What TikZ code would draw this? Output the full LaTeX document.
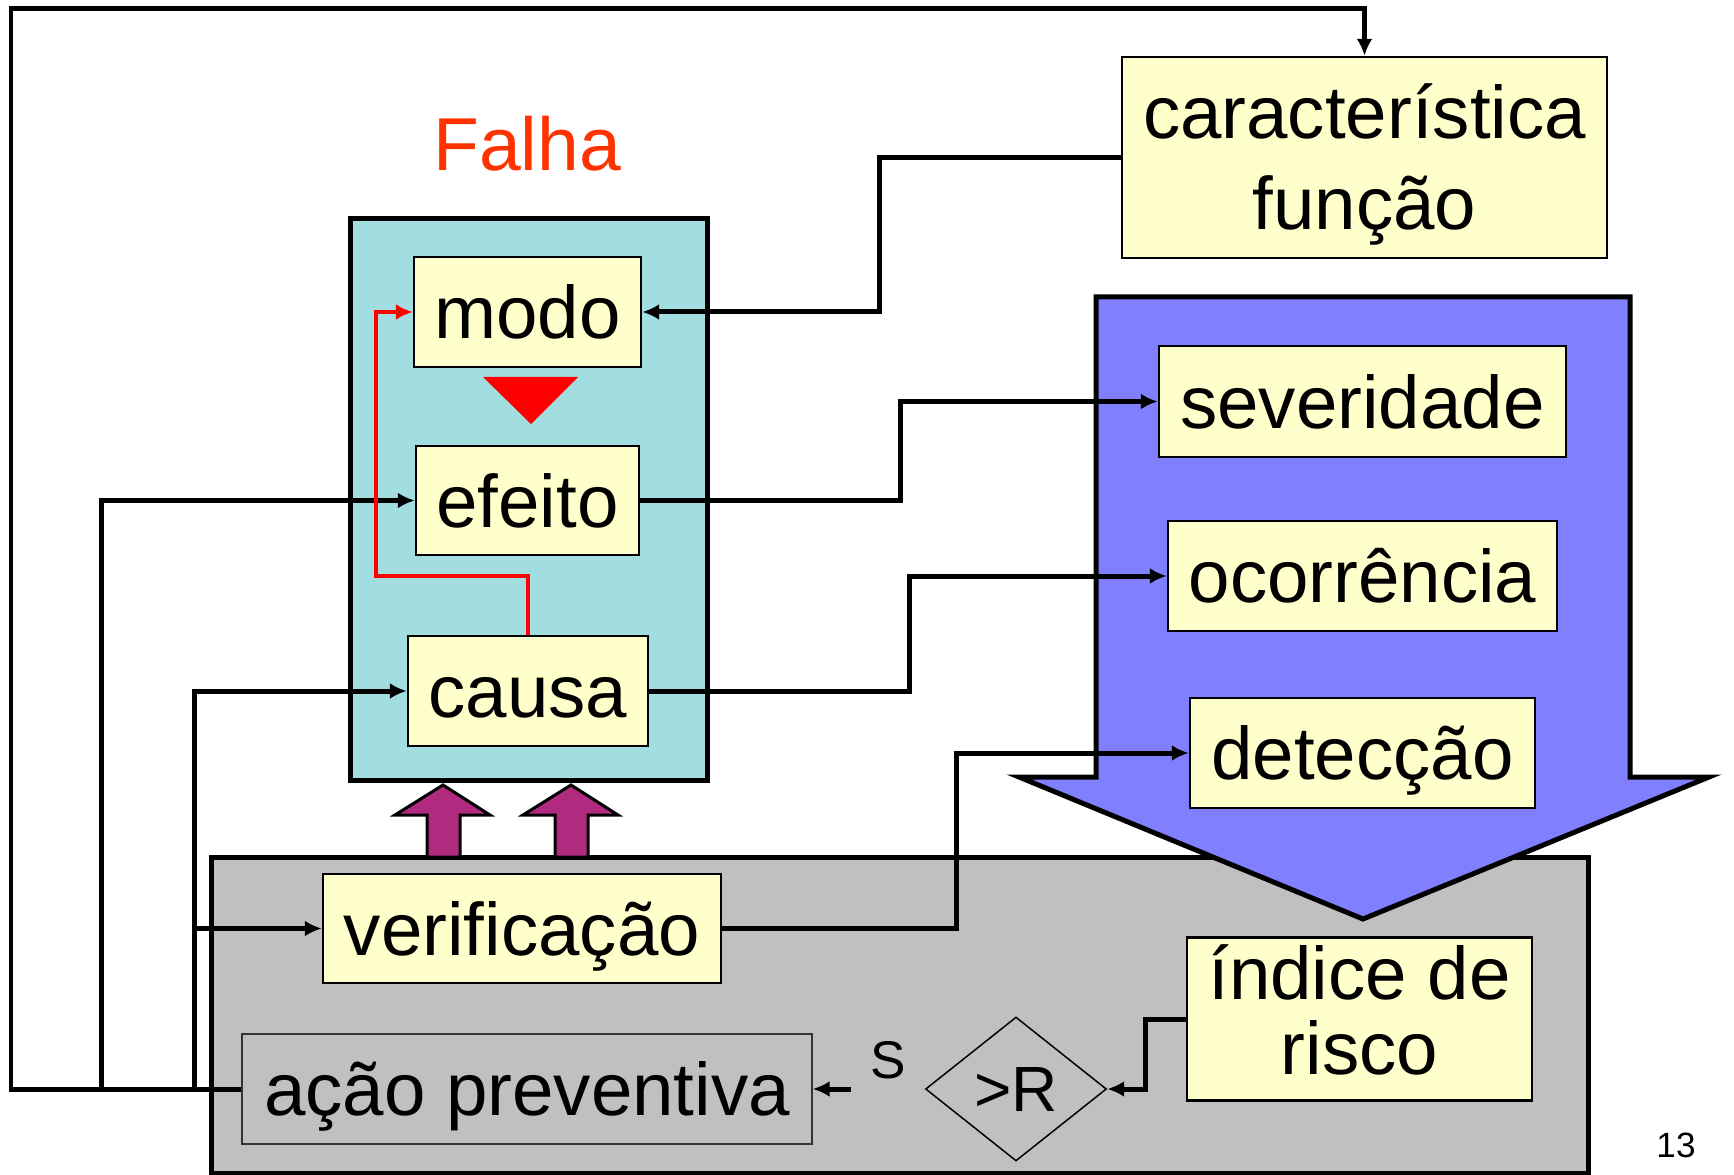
\documentclass[tikz,border=0pt]{standalone}
\usepackage{fontspec}
\setmainfont{Liberation Sans}
\usetikzlibrary{arrows.meta,shapes.geometric}
\definecolor{boxyellow}{RGB}{255,255,204}
\definecolor{failcyan}{RGB}{162,222,223}
\definecolor{bigblue}{RGB}{128,128,255}
\definecolor{panelgray}{RGB}{192,192,192}
\definecolor{purplearrow}{RGB}{176,42,128}
\definecolor{falhared}{RGB}{255,51,0}
\begin{document}
\begin{tikzpicture}[x=0.02cm,y=-0.02cm,
  box/.style={draw=black,line width=0.05cm,fill=boxyellow,inner sep=0pt,
    font=\fontsize{42.4pt}{50pt}\selectfont},
  oneline/.style={text height=1.07cm,text depth=0cm},
  conn/.style={line width=0.1cm,line join=miter,-{Latex[length=0.34cm,width=0.32cm]}},
  bigframe/.style={draw=black,line width=0.1cm,line join=miter},
  blockarrow/.style={draw=black,fill=purplearrow,line width=0.06cm,line join=miter}]
\path[use as bounding box,fill=white] (0,0) rectangle (1734,1175);

% grey panel
\draw[bigframe,fill=panelgray] (211,857) rectangle (1588,1173);

% purple block arrows
\draw[blockarrow] (427,857) -- (427,815) -- (395,815) -- (443,785) -- (490,815) -- (460,815) -- (460,857) -- cycle;
\draw[blockarrow] (555,857) -- (555,815) -- (523,815) -- (571,785) -- (618,815) -- (588,815) -- (588,857) -- cycle;

% cyan failure frame
\draw[bigframe,fill=failcyan] (350,219) rectangle (707,780);

% big blue arrow
\draw[bigframe,fill=bigblue] (1096,297) -- (1630,297) -- (1630,777) -- (1709,777) -- (1363,919) -- (1019,777) -- (1096,777) -- cycle;

% red triangle
\fill[red] (483,377) -- (578,377) -- (531,424) -- cycle;

% title
\node[font=\fontsize{42.7pt}{50pt}\selectfont,text=falhared,anchor=base,inner sep=0pt] (falha) at (527,171) {Falha};

% boxes
\node[box,minimum width=9.70cm,minimum height=4.02cm] (carac) at (1364.5,157.5)
  {\fontsize{42.4pt}{52.3pt}\selectfont\begin{tabular}{@{}c@{}}\rule{0pt}{1.61cm}característica\\função\end{tabular}};
\node[box,oneline,minimum width=4.54cm,minimum height=2.20cm] (modo) at (527.5,312) {modo};
\node[box,oneline,minimum width=4.46cm,minimum height=2.18cm] (efeito) at (527.5,500.5) {efeito};
\node[box,oneline,minimum width=4.80cm,minimum height=2.20cm] (causa) at (528,691) {causa};
\node[box,oneline,minimum width=8.14cm,minimum height=2.22cm] (sever) at (1362.5,401.5) {severidade};
\node[box,oneline,minimum width=7.78cm,minimum height=2.20cm] (ocorr) at (1362.5,576) {ocorrência};
\node[box,oneline,minimum width=6.90cm,minimum height=2.20cm] (detec) at (1362.5,753) {detecção};
\node[box,oneline,minimum width=7.96cm,minimum height=2.18cm] (verif) at (522,928.5) {verificação};
\node[box,oneline,fill=panelgray,draw=black!80,line width=0.03cm,minimum width=11.40cm,minimum height=2.20cm] (acao) at (527,1089) {ação preventiva};
\node[box,minimum width=6.90cm,minimum height=3.26cm] (indice) at (1359.5,1019)
  {\fontsize{42.4pt}{41pt}\selectfont\begin{tabular}{@{}c@{}}\rule{0pt}{1.15cm}índice de\\risco\end{tabular}};
\node[diamond,draw=black,line width=0.03cm,inner sep=0pt,minimum width=3.62cm,minimum height=2.88cm,
  font=\fontsize{36.4pt}{40pt}\selectfont] (dia) at (1016,1089) {>R};

% labels
\node[font=\fontsize{30.2pt}{36pt}\selectfont,anchor=base,inner sep=0pt] (slabel) at (888,1078) {S};
\node[font=\fontsize{20pt}{24pt}\selectfont,anchor=base,inner sep=0pt] (pagenum) at (1676,1157) {13};

% connectors
\draw[conn] (carac.west) -- ++(-241,0) |- (modo.east);
\draw[conn] (efeito.east) -- ++(260,0) |- (sever.west);
\draw[conn] (causa.east) -- ++(260,0) |- (ocorr.west);
\draw[conn] (verif.east) -- ++(234,0) |- (detec.west);
\draw[conn] (indice.west) -- ++(-40,0) |- (dia.east);
\draw[conn,shorten <=1.48cm] (dia.west) -- (acao.east);
\draw[conn] (acao.west) -- (11,1089) -- (11,9) -| (carac.north);
\coordinate (j1) at (101,1089);
\coordinate (j2) at (194,1089);
\draw[conn] (j1) |- (efeito.west);
\draw[conn] (j2) |- (causa.west);
\draw[conn] (j2 |- verif.west) -- (verif.west);
\draw[conn,draw=red,line width=0.09cm] (causa.north) -- ++(0,-59) -- ++(-152,0) |- (modo.west);
\end{tikzpicture}
\end{document}
